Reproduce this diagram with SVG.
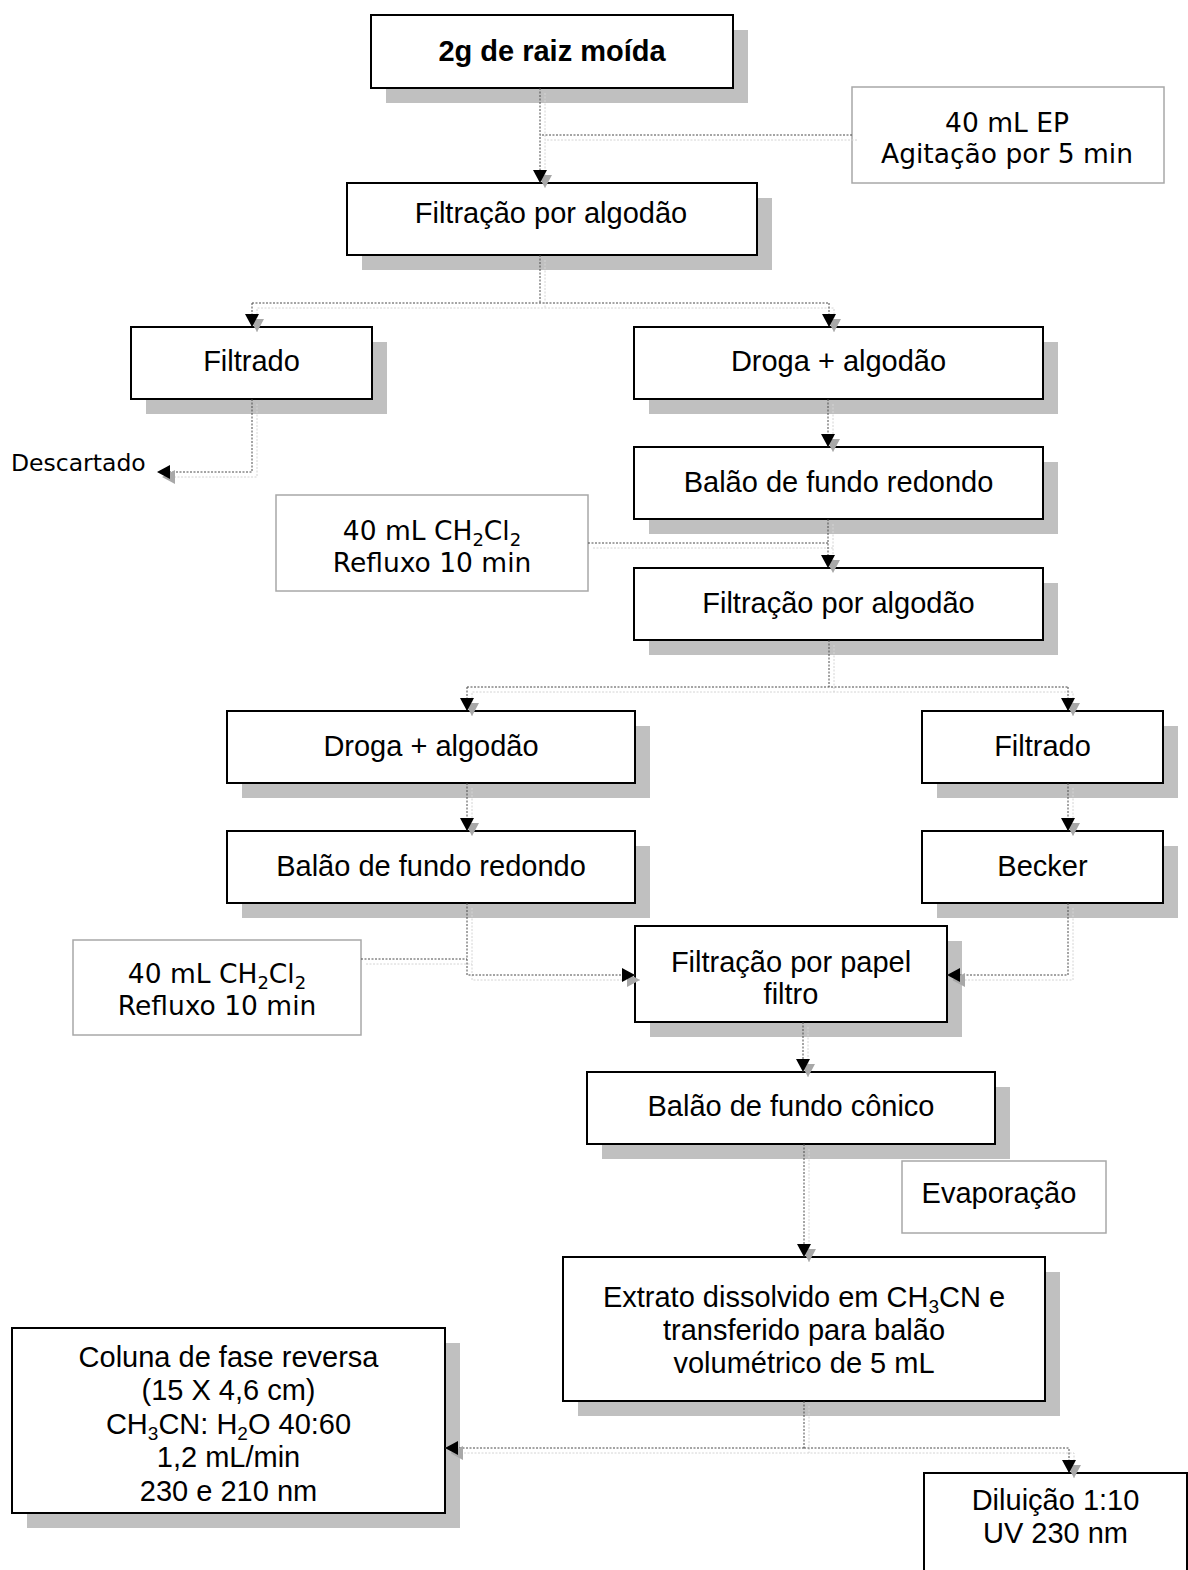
<svg xmlns="http://www.w3.org/2000/svg" width="1188" height="1570" viewBox="0 0 1188 1570">
  <style>
    .shadow { fill: #c0c0c0; }
    .box { fill: #ffffff; stroke: #000000; stroke-width: 2; }
    .note { fill: #ffffff; stroke: #a8a8a8; stroke-width: 1.5; }
    .t { font-family: "Liberation Sans", Arial, sans-serif; font-size: 29px; fill: #000; text-anchor: middle; }
    .tb { font-weight: bold; }
    .v { font-family: "DejaVu Sans", Verdana, sans-serif; font-size: 26.5px; fill: #000; text-anchor: middle; }
    .link { fill: none; stroke: #4a4a4a; stroke-width: 1; stroke-dasharray: 2 1.5; }
    .link-sh { fill: none; stroke: #d4d4d4; stroke-width: 1; stroke-dasharray: 2 1.5; }
  </style>
  <defs>
    <marker id="ah-down" markerUnits="userSpaceOnUse" markerWidth="30" markerHeight="30" refX="0" refY="0" orient="0" overflow="visible">
      <path d="M5,5 L-2,-8 L12,-8 Z" fill="#a8a8a8"/>
      <path d="M0,0 L-7,-13 L7,-13 Z" fill="#000"/>
    </marker>
    <marker id="ah-left" markerUnits="userSpaceOnUse" markerWidth="30" markerHeight="30" refX="0" refY="0" orient="0" overflow="visible">
      <path d="M5,5 L18,-2 L18,12 Z" fill="#a8a8a8"/>
      <path d="M0,0 L13,-7 L13,7 Z" fill="#000"/>
    </marker>
    <marker id="ah-right" markerUnits="userSpaceOnUse" markerWidth="30" markerHeight="30" refX="0" refY="0" orient="0" overflow="visible">
      <path d="M5,5 L-8,-2 L-8,12 Z" fill="#a8a8a8"/>
      <path d="M0,0 L-13,-7 L-13,7 Z" fill="#000"/>
    </marker>
  </defs>

  <rect x="0" y="0" width="1188" height="1570" fill="#ffffff"/>

  <!-- process steps -->
  <g id="raiz">
    <rect class="shadow" x="386" y="30" width="362" height="73"/>
    <rect class="box" x="371" y="15" width="362" height="73"/>
    <text class="t tb" x="552" y="61">2g de raiz moída</text>
  </g>
  <g id="filtracao-1">
    <rect class="shadow" x="362" y="198" width="410" height="72"/>
    <rect class="box" x="347" y="183" width="410" height="72"/>
    <text class="t" x="551" y="223">Filtração por algodão</text>
  </g>
  <g id="filtrado-1">
    <rect class="shadow" x="146" y="342" width="241" height="72"/>
    <rect class="box" x="131" y="327" width="241" height="72"/>
    <text class="t" x="251.5" y="371">Filtrado</text>
  </g>
  <g id="droga-1">
    <rect class="shadow" x="649" y="342" width="409" height="72"/>
    <rect class="box" x="634" y="327" width="409" height="72"/>
    <text class="t" x="838.5" y="371">Droga + algodão</text>
  </g>
  <g id="balao-1">
    <rect class="shadow" x="649" y="462" width="409" height="72"/>
    <rect class="box" x="634" y="447" width="409" height="72"/>
    <text class="t" x="838.5" y="492">Balão de fundo redondo</text>
  </g>
  <g id="filtracao-2">
    <rect class="shadow" x="649" y="583" width="409" height="72"/>
    <rect class="box" x="634" y="568" width="409" height="72"/>
    <text class="t" x="838.5" y="613">Filtração por algodão</text>
  </g>
  <g id="droga-2">
    <rect class="shadow" x="242" y="726" width="408" height="72"/>
    <rect class="box" x="227" y="711" width="408" height="72"/>
    <text class="t" x="431" y="756">Droga + algodão</text>
  </g>
  <g id="filtrado-2">
    <rect class="shadow" x="937" y="726" width="241" height="72"/>
    <rect class="box" x="922" y="711" width="241" height="72"/>
    <text class="t" x="1042.5" y="756">Filtrado</text>
  </g>
  <g id="balao-2">
    <rect class="shadow" x="242" y="846" width="408" height="72"/>
    <rect class="box" x="227" y="831" width="408" height="72"/>
    <text class="t" x="431" y="876">Balão de fundo redondo</text>
  </g>
  <g id="becker">
    <rect class="shadow" x="937" y="846" width="241" height="72"/>
    <rect class="box" x="922" y="831" width="241" height="72"/>
    <text class="t" x="1042.5" y="876">Becker</text>
  </g>
  <g id="filtracao-papel">
    <rect class="shadow" x="650" y="941" width="312" height="96"/>
    <rect class="box" x="635" y="926" width="312" height="96"/>
    <text class="t" x="791" y="972">Filtração por papel</text>
    <text class="t" x="791" y="1004">filtro</text>
  </g>
  <g id="balao-conico">
    <rect class="shadow" x="602" y="1087" width="408" height="72"/>
    <rect class="box" x="587" y="1072" width="408" height="72"/>
    <text class="t" x="791" y="1116">Balão de fundo cônico</text>
  </g>
  <g id="extrato">
    <rect class="shadow" x="578" y="1272" width="482" height="144"/>
    <rect class="box" x="563" y="1257" width="482" height="144"/>
    <text class="t" x="804" y="1307">Extrato dissolvido em CH<tspan dy="6" font-size="19">3</tspan><tspan dy="-6">CN e</tspan></text>
    <text class="t" x="804" y="1340">transferido para balão</text>
    <text class="t" x="804" y="1373">volumétrico de 5 mL</text>
  </g>
  <g id="coluna">
    <rect class="shadow" x="27" y="1343" width="433" height="185"/>
    <rect class="box" x="12" y="1328" width="433" height="185"/>
    <text class="t" x="228.5" y="1367">Coluna de fase reversa</text>
    <text class="t" x="228.5" y="1400">(15 X 4,6 cm)</text>
    <text class="t" x="228.5" y="1434">CH<tspan dy="6" font-size="19">3</tspan><tspan dy="-6">CN: H</tspan><tspan dy="6" font-size="19">2</tspan><tspan dy="-6">O 40:60</tspan></text>
    <text class="t" x="228.5" y="1467">1,2 mL/min</text>
    <text class="t" x="228.5" y="1501">230 e 210 nm</text>
  </g>
  <g id="diluicao">
    <rect class="shadow" x="939" y="1488" width="263" height="120"/>
    <rect class="box" x="924" y="1473" width="263" height="120"/>
    <text class="t" x="1055.5" y="1510">Diluição 1:10</text>
    <text class="t" x="1055.5" y="1543">UV 230 nm</text>
  </g>

  <!-- side notes -->
  <g id="nota-ep">
    <rect class="note" x="852" y="87" width="312" height="96"/>
    <text class="v" x="1007" y="132">40 mL EP</text>
    <text class="v" x="1007" y="163">Agitação por 5 min</text>
  </g>
  <g id="nota-refluxo-1">
    <rect class="note" x="276" y="495" width="312" height="96"/>
    <text class="v" x="432" y="540">40 mL CH<tspan dy="6" font-size="18">2</tspan><tspan dy="-6">Cl</tspan><tspan dy="6" font-size="18">2</tspan></text>
    <text class="v" x="432" y="572">Refluxo 10 min</text>
  </g>
  <g id="nota-refluxo-2">
    <rect class="note" x="73" y="940" width="288" height="95"/>
    <text class="v" x="217" y="983">40 mL CH<tspan dy="6" font-size="18">2</tspan><tspan dy="-6">Cl</tspan><tspan dy="6" font-size="18">2</tspan></text>
    <text class="v" x="217" y="1015">Refluxo 10 min</text>
  </g>
  <g id="nota-evaporacao">
    <rect class="note" x="902" y="1161" width="204" height="72"/>
    <text class="t" x="999" y="1203">Evaporação</text>
  </g>
  <g id="descartado">
    <text class="v" x="11" y="471" style="font-size:23.5px;text-anchor:start">Descartado</text>
  </g>

  <!-- connectors: light offset shadow first, then the dotted line with arrowheads -->
  <g id="connectors">
    <g transform="translate(5,5)">
      <path class="link-sh" d="M540,88 V183"/>
      <path class="link-sh" d="M852,135 H540"/>
      <path class="link-sh" d="M540,255 V303"/>
      <path class="link-sh" d="M252,327 V303 H829 V327"/>
      <path class="link-sh" d="M252,399 V472 H157"/>
      <path class="link-sh" d="M828,399 V447"/>
      <path class="link-sh" d="M828,519 V568"/>
      <path class="link-sh" d="M588,543 H828"/>
      <path class="link-sh" d="M829,640 V687"/>
      <path class="link-sh" d="M467,711 V687 H1068 V711"/>
      <path class="link-sh" d="M467,783 V831"/>
      <path class="link-sh" d="M1068,783 V831"/>
      <path class="link-sh" d="M467,903 V975 H635"/>
      <path class="link-sh" d="M361,959 H467"/>
      <path class="link-sh" d="M1068,903 V975 H947"/>
      <path class="link-sh" d="M803,1022 V1072"/>
      <path class="link-sh" d="M804,1144 V1257"/>
      <path class="link-sh" d="M804,1401 V1448"/>
      <path class="link-sh" d="M445,1448 H1069 V1473"/>
    </g>
    <path class="link" d="M540,88 V183" marker-end="url(#ah-down)"/>
    <path class="link" d="M852,135 H540"/>
    <path class="link" d="M540,255 V303"/>
    <path class="link" d="M252,303 H829"/>
    <path class="link" d="M252,303 V327" marker-end="url(#ah-down)"/>
    <path class="link" d="M829,303 V327" marker-end="url(#ah-down)"/>
    <path class="link" d="M252,399 V472 H157" marker-end="url(#ah-left)"/>
    <path class="link" d="M828,399 V447" marker-end="url(#ah-down)"/>
    <path class="link" d="M828,519 V568" marker-end="url(#ah-down)"/>
    <path class="link" d="M588,543 H828"/>
    <path class="link" d="M829,640 V687"/>
    <path class="link" d="M467,687 H1068"/>
    <path class="link" d="M467,687 V711" marker-end="url(#ah-down)"/>
    <path class="link" d="M1068,687 V711" marker-end="url(#ah-down)"/>
    <path class="link" d="M467,783 V831" marker-end="url(#ah-down)"/>
    <path class="link" d="M1068,783 V831" marker-end="url(#ah-down)"/>
    <path class="link" d="M467,903 V975 H635" marker-end="url(#ah-right)"/>
    <path class="link" d="M361,959 H467"/>
    <path class="link" d="M1068,903 V975 H947" marker-end="url(#ah-left)"/>
    <path class="link" d="M803,1022 V1072" marker-end="url(#ah-down)"/>
    <path class="link" d="M804,1144 V1257" marker-end="url(#ah-down)"/>
    <path class="link" d="M804,1401 V1448"/>
    <path class="link" d="M804,1448 H445" marker-end="url(#ah-left)"/>
    <path class="link" d="M804,1448 H1069 V1473" marker-end="url(#ah-down)"/>
  </g>
</svg>
